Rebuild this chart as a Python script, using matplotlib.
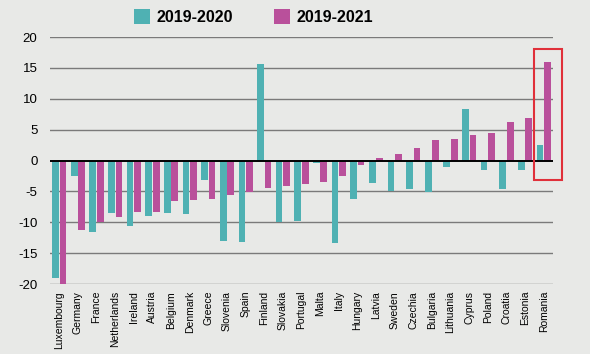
import matplotlib.pyplot as plt
from matplotlib.patches import Rectangle
import numpy as np

countries = ['Luxembourg', 'Germany', 'France', 'Netherlands', 'Ireland', 'Austria',
             'Belgium', 'Denmark', 'Greece', 'Slovenia', 'Spain', 'Finland', 'Slovakia',
             'Portugal', 'Malta', 'Italy', 'Hungary', 'Latvia', 'Sweden', 'Czechia',
             'Bulgaria', 'Lithuania', 'Cyprus', 'Poland', 'Croatia', 'Estonia', 'Romania']
chg_2020 = [-19.0, -2.5, -11.5, -8.5, -10.6, -9.0, -8.5, -8.6, -3.1, -13.0, -13.2, 15.6,
            -10.0, -9.8, -0.4, -13.4, -6.3, -3.7, -5.0, -4.6, -5.1, -1.1, 8.4, -1.5,
            -4.6, -1.5, 2.5]
chg_2021 = [-20.0, -11.3, -10.0, -9.2, -8.4, -8.4, -6.5, -6.4, -6.2, -5.6, -5.1, -4.4,
            -4.1, -3.8, -3.5, -2.5, -0.8, 0.4, 1.1, 2.1, 3.3, 3.5, 4.1, 4.5, 6.2, 6.9, 15.9]
series = ['2019-2020', '2019-2021']
yticks = [20, 15, 10, 5, 0, -5, -10, -15, -20]

teal = '#4fb1b3'
magenta = '#b9509b'
bg = '#e8e9e7'
font = ['Liberation Sans', 'DejaVu Sans']

fig = plt.figure(figsize=(5.9, 3.54), dpi=100, facecolor=bg)
ax = fig.add_axes([0.0847, 0.1977, 0.8526, 0.6977], facecolor=bg)

x = np.arange(len(countries))
w = 0.36
for y in yticks:
    if y != 0:
        ax.axhline(y, color='#7a7a7a', lw=1.0, zorder=1)
ax.bar(x - w / 2 - 0.02, chg_2020, width=w, color=teal, label=series[0], zorder=2)
ax.bar(x + w / 2 + 0.02, chg_2021, width=w, color=magenta, label=series[1], zorder=2)
ax.axhline(0, color='black', lw=1.4, zorder=3)

ax.set_xlim(-0.5, 26.5)
ax.set_ylim(-20, 20)
for s in ax.spines.values():
    s.set_visible(False)
ax.set_yticks(yticks)
ax.set_yticklabels([str(v) for v in yticks], family=font, fontsize=9.5)
ax.tick_params(axis='y', length=0, pad=9)
ax.set_xticks(x)
ax.set_xticklabels(countries, rotation=90, family=font, fontsize=7.5)
ax.tick_params(axis='x', length=0, pad=5)

# highlight box round Romania
ax.add_patch(Rectangle((25.46, -3.2), 1.53, 21.3, fill=False, edgecolor='#e0303a',
                       lw=1.5, clip_on=False, zorder=4))

ax.legend(loc='center', bbox_to_anchor=(0.405, 1.081), ncol=2, frameon=False,
          prop={'family': font, 'weight': 'bold', 'size': 11.5},
          handlelength=1.0, handleheight=1.0, columnspacing=2.6, handletextpad=0.4,
          borderpad=0)

fig.savefig('out.png', dpi=100, facecolor=bg)
